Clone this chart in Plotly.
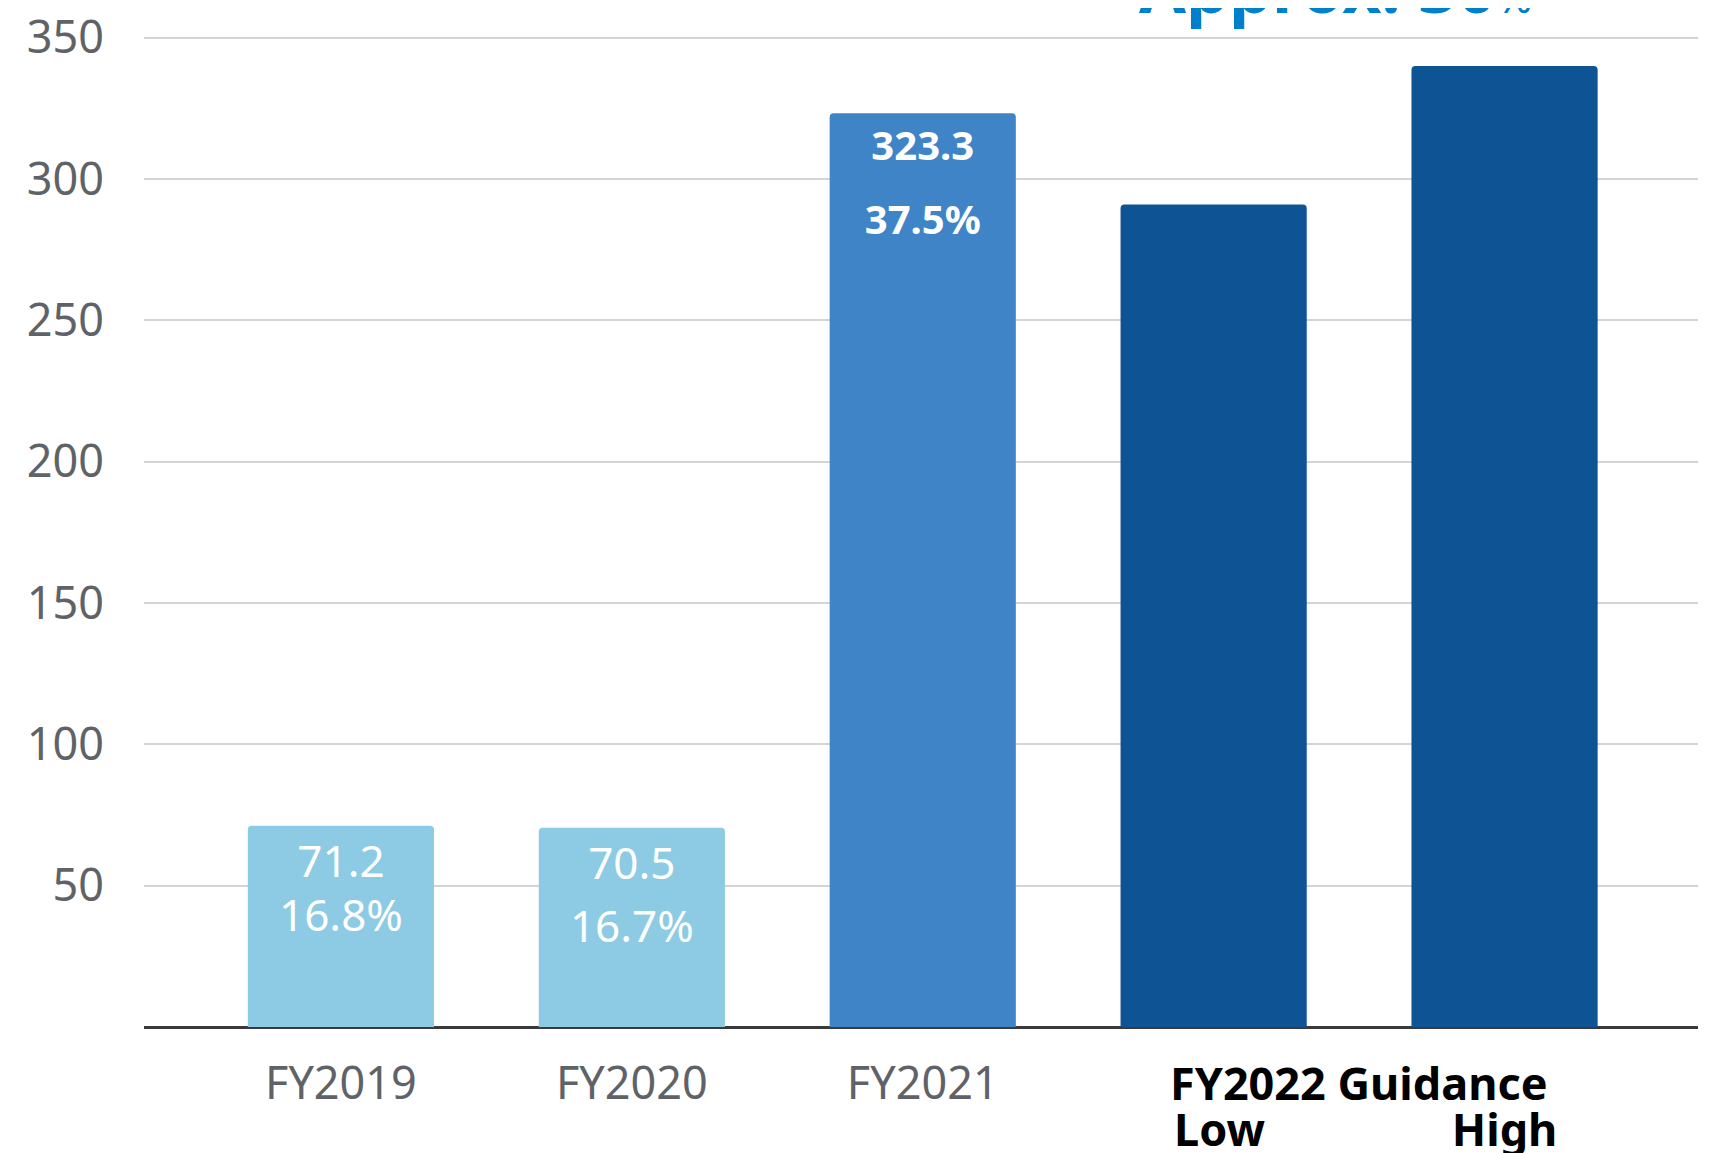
import plotly.graph_objects as go

# data
categories = ["FY2019", "FY2020", "FY2021", "Low", "High"]
values = [71.2, 70.5, 323.3, 291, 340]
margins = ["16.8%", "16.7%", "37.5%", "", ""]
y_ticks = [50, 100, 150, 200, 250, 300, 350]

bar_colors = ["#8ccbe3", "#8ccbe3", "#3e84c6", "#0e5394", "#0e5394"]
FONT = "Noto Sans"

# line spacing of the in-bar labels is driven by the base size,
# glyph size by the span inside
base_sizes = [42, 49, 57, 10, 10]
glyph_sizes = [44, 44, 40, 10, 10]

labels = []
for i, (v, m) in enumerate(zip(values, margins)):
    if not m:
        labels.append("")
        continue
    s = glyph_sizes[i]
    a, b = f"{v:.1f}", m
    if i == 2:
        a, b = f"<b>{a}</b>", f"<b>{b}</b>"
    labels.append(f"<span style='font-size:{s}px'>{a}</span><br>"
                  f"<span style='font-size:{s}px'>{b}</span>")

fig = go.Figure()
fig.add_trace(go.Bar(
    x=categories,
    y=values,
    width=0.64,
    marker=dict(color=bar_colors, line=dict(width=0), cornerradius=4),
    text=labels,
    textposition="inside",
    insidetextanchor="end",
    textangle=0,
    textfont=dict(family=FONT, color="white", size=base_sizes),
    hoverinfo="skip",
))

# heading above the chart, cropped off at the top edge
fig.add_annotation(
    text="<b>Approx. 30</b><span style='font-size:44px'>%</span>",
    xref="paper", yref="paper", x=0.639, y=1.050,
    xanchor="left", yanchor="middle", showarrow=False,
    font=dict(family=FONT, size=68, color="#0080cc"),
)

# group label for the guidance bars
fig.add_annotation(
    text="<b>FY2022 Guidance</b>",
    xref="x", yref="paper", x=3.5, y=-0.056,
    xanchor="center", yanchor="middle", showarrow=False,
    font=dict(family=FONT, size=45, color="#000000"),
)

# page body adds an 8px margin, so the figure is sized to fit inside it
fig.update_layout(
    width=1702, height=1145,
    margin=dict(l=136, r=12, t=28, b=126),
    paper_bgcolor="white",
    plot_bgcolor="white",
    showlegend=False,
    font=dict(family=FONT, color="#5f6368"),
)

tick_labels = [
    "<span style='font-size:45px'>FY2019</span>",
    "<span style='font-size:45px'>FY2020</span>",
    "<span style='font-size:45px'>FY2021</span>",
    "<br><span style='font-size:45px;color:#000000'><b>&nbsp;Low</b></span>",
    "<br><span style='font-size:45px;color:#000000'><b>High</b></span>",
]

fig.update_xaxes(
    range=[-0.677, 4.665],
    tickvals=categories,
    ticktext=tick_labels,
    tickfont=dict(family=FONT, size=36, color="#5f6368"),
    ticks="outside", ticklen=28, tickcolor="rgba(0,0,0,0)",
    ticklabeloverflow="allow",
    showline=False, showgrid=False, automargin=False,
)

fig.update_yaxes(
    range=[0, 350.6],
    tickvals=y_ticks,
    tickfont=dict(family=FONT, size=45, color="#5f6368"),
    ticks="outside", ticklen=30, tickcolor="rgba(0,0,0,0)",
    ticklabeloverflow="allow",
    showgrid=True, gridcolor="#d4d4d4", gridwidth=2,
    zeroline=True, zerolinecolor="#3a3a3a", zerolinewidth=3,
    showline=False, automargin=False,
)

fig.write_html("out.html")
